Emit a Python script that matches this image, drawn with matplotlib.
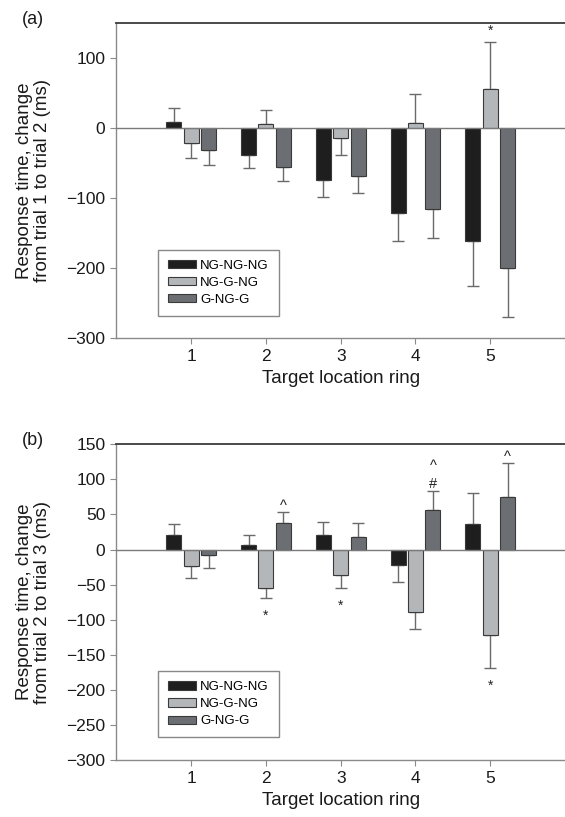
import matplotlib
matplotlib.use("Agg")
import matplotlib.pyplot as plt
import numpy as np

plt.rcParams['font.family'] = ['Liberation Sans', 'DejaVu Sans']

rings = [1, 2, 3, 4, 5]
series = ['NG-NG-NG', 'NG-G-NG', 'G-NG-G']
colors = ['#1e1e1e', '#b3b7ba', '#6b6f73']

# Panel (a): change from trial 1 to trial 2 (ms)
a_ngngng = [8, -38, -74, -121, -161]
a_nggng = [-22, 5, -15, 7, 56]
a_gngg = [-32, -56, -68, -115, -200]
a_err_ngngng = [20, 19, 24, 40, 65]
a_err_nggng = [21, 20, 23, 41, 67]
a_err_gngg = [21, 19, 25, 42, 69]
# markers: (ring index, series index, symbols from bar end outward)
a_marks = [(4, 1, ['*'])]

# Panel (b): change from trial 2 to trial 3 (ms)
b_ngngng = [20, 7, 20, -22, 36]
b_nggng = [-23, -55, -37, -89, -122]
b_gngg = [-8, 38, 18, 57, 75]
b_err_ngngng = [17, 14, 19, 24, 44]
b_err_nggng = [17, 14, 18, 25, 47]
b_err_gngg = [18, 15, 20, 26, 48]
b_marks = [(1, 2, ['^']), (1, 1, ['*']), (2, 1, ['*']), (3, 2, ['#', '^']),
           (4, 2, ['^']), (4, 1, ['*'])]

fig = plt.figure(figsize=(5.65, 8.17), dpi=100)

def draw(ax, vals, errs, marks, yticks, label_letter, ylab):
    x = np.array(rings, dtype=float)
    width = 0.2
    offs = [-0.233, 0.0, 0.233]
    for i, (v, e) in enumerate(zip(vals, errs)):
        v = np.array(v, dtype=float)
        e = np.array(e, dtype=float)
        xi = x + offs[i]
        ax.bar(xi, v, width=width, color=colors[i], edgecolor='#3a3a3a',
               linewidth=0.8, label=series[i], zorder=2)
        lower = np.where(v < 0, e, 0)
        upper = np.where(v >= 0, e, 0)
        ax.errorbar(xi, v, yerr=[lower, upper], fmt='none', ecolor='#6a6a6a',
                    elinewidth=1.0, capsize=4, capthick=1.0, zorder=1)
    for (gi, si, syms) in marks:
        v = vals[si][gi]
        e = errs[si][gi]
        xi = x[gi] + offs[si]
        if v >= 0:
            y = v + e
            for k, s in enumerate(syms):
                if s == '^':
                    off = 4.7 + 13.3 * k
                elif s == '#':
                    off = 5
                else:
                    off = 8
                ax.annotate(s, (xi, y), xytext=(0, off), textcoords='offset points',
                            ha='center', va='center',
                            fontsize=10.5 if s != '*' else 10, color='#222222')
        else:
            y = v - e
            for k, s in enumerate(syms):
                ax.annotate(s, (xi, y), xytext=(0, -13 - 12 * k), textcoords='offset points',
                            ha='center', va='center', fontsize=10, color='#222222')
    ax.axhline(0, color='#7a7a7a', linewidth=1.0, zorder=3)
    ax.set_xlim(0, 6)
    ax.set_ylim(-300, 150)
    ax.set_xticks(rings)
    ax.set_xticklabels([str(r) for r in rings])
    ax.set_yticks(yticks)
    ax.set_yticklabels([str(t).replace('-', '\u2212') for t in yticks])
    ax.tick_params(axis='both', labelsize=12.5, length=4, width=0.8, color='#8a8a8a',
                   direction='out', pad=4, labelcolor='#1a1a1a')
    for sp in ['left', 'bottom']:
        ax.spines[sp].set_color('#8a8a8a')
        ax.spines[sp].set_linewidth(1.0)
    ax.spines['top'].set_color('#3a3a3a')
    ax.spines['top'].set_linewidth(1.3)
    ax.spines['right'].set_visible(False)
    ax.set_xlabel('Target location ring', fontsize=13.5, labelpad=4, color='#1a1a1a')
    ax.set_ylabel(ylab, fontsize=13.5, linespacing=1.05, labelpad=11, color='#1a1a1a')
    leg = ax.legend(loc='lower left', bbox_to_anchor=(0.093, 0.072), fontsize=9.5,
                    frameon=True, fancybox=False, edgecolor='#6a6a6a',
                    handlelength=2.1, handleheight=0.6, handletextpad=0.35,
                    labelspacing=0.38, borderpad=0.75, borderaxespad=0)
    leg.get_frame().set_linewidth(1.0)
    fig.text(0.039, ax.get_position().y1 + 12 / 817, label_letter, fontsize=13,
             ha='left', va='top', color='#1a1a1a')

ax1 = fig.add_axes([0.206, 0.5859, 0.794, 0.3863])
draw(ax1, [a_ngngng, a_nggng, a_gngg],
     [a_err_ngngng, a_err_nggng, a_err_gngg], a_marks,
     [-300, -200, -100, 0, 100], '(a)',
     'Response time, change\nfrom trial 1 to trial 2 (ms)')

ax2 = fig.add_axes([0.206, 0.0698, 0.794, 0.3864])
draw(ax2, [b_ngngng, b_nggng, b_gngg],
     [b_err_ngngng, b_err_nggng, b_err_gngg], b_marks,
     [-300, -250, -200, -150, -100, -50, 0, 50, 100, 150], '(b)',
     'Response time, change\nfrom trial 2 to trial 3 (ms)')

fig.savefig('out.png', dpi=100)
